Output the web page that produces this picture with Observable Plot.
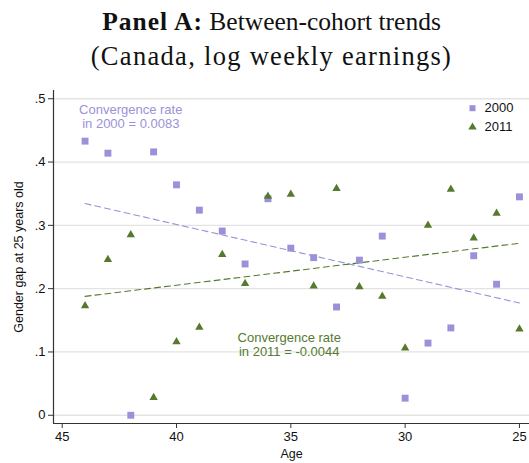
<!DOCTYPE html>
<html>
<head>
<meta charset="utf-8">
<script src="https://cdn.jsdelivr.net/npm/d3@7"></script>
<script src="https://cdn.jsdelivr.net/npm/@observablehq/plot@0.6"></script>
<style>
  body { margin: 0; background: #fff; }
  #wrap { width: 529px; height: 463px; position: relative; overflow: hidden; }
  #title { height: 85px; text-align: center; font-family: "Liberation Serif", "Times New Roman", serif; font-size: 25.5px; color: #111; line-height: 35px; padding-top: 4px; padding-left: 14px; box-sizing: border-box; }
  #title b { font-weight: bold; letter-spacing: 1px; }
  #title .l2 { font-size: 26.5px; letter-spacing: 1.3px; }
  svg { display: block; }
</style>
</head>
<body>
<div id="wrap">
  <div id="title"><b>Panel A:</b> Between-cohort trends<br><span class="l2">(Canada, log weekly earnings)</span></div>
  <div id="chart"></div>
</div>
<script>
const ages = [44, 43, 42, 41, 40, 39, 38, 37, 36, 35, 34, 33, 32, 31, 30, 29, 28, 27, 26, 25];
const gap2000 = [0.433, 0.414, 0.000, 0.416, 0.364, 0.324, 0.291, 0.239, 0.342, 0.264, 0.249, 0.171, 0.245, 0.283, 0.027, 0.114, 0.138, 0.252, 0.207, 0.345];
const gap2011 = [0.173, 0.246, 0.285, 0.028, 0.116, 0.139, 0.254, 0.208, 0.346, 0.349, 0.204, 0.358, 0.203, 0.188, 0.106, 0.300, 0.357, 0.280, 0.319, 0.136];
const xTicks = [45, 40, 35, 30, 25];
const yTicks = [0, 0.1, 0.2, 0.3, 0.4, 0.5];
const seriesNames = ["2000", "2011"];
const annotations = [
  {age: 42.0, gap: 0.472, label: "Convergence rate\nin 2000 = 0.0083", series: "2000"},
  {age: 35.07, gap: 0.112, label: "Convergence rate\nin 2011 = -0.0044", series: "2011"}
];

const colors = {"2000": "#9a92d8", "2011": "#557a2e"};
const xDomain = [45.38, 24.56];
const yDomain = [-0.013, 0.513];

const d2000 = ages.map((a, i) => ({age: a, gap: gap2000[i]}));
const d2011 = ages.map((a, i) => ({age: a, gap: gap2011[i]}));

const fmtY = d => d === 0 ? "0" : d3.format(".1f")(d).replace(/^0/, "");
const font = "Liberation Sans, Arial, sans-serif";

const chart = Plot.plot({
  width: 529,
  height: 378,
  marginTop: 5,
  marginBottom: 40,
  marginLeft: 53,
  marginRight: 0,
  style: {fontFamily: font, fontSize: "13px", color: "#111", background: "white"},
  x: {domain: xDomain, ticks: xTicks, label: null},
  y: {domain: yDomain, ticks: yTicks, label: null, tickFormat: fmtY},
  marks: [
    Plot.ruleY(yTicks, {stroke: "#e3e3e3", strokeWidth: 1.3}),
    Plot.ruleX([xDomain[0]], {stroke: "#333", strokeWidth: 1.2}),
    Plot.ruleY([yDomain[0]], {stroke: "#333", strokeWidth: 1.2}),
    Plot.axisX({ticks: xTicks, tickSize: 5, tickPadding: 3, stroke: "#333", fontSize: 13, label: null}),
    Plot.axisY({ticks: yTicks, tickSize: 5, tickPadding: 3, stroke: "#333", fontSize: 13, tickFormat: fmtY, label: null}),
    Plot.text(["Age"], {frameAnchor: "bottom", dy: 30, lineAnchor: "middle", textAnchor: "middle", fontSize: 12.5, fill: "#111"}),
    Plot.text(["Gender gap at 25 years old"], {frameAnchor: "left", dx: -35, dy: 0, rotate: -90, lineAnchor: "middle", textAnchor: "middle", fontSize: 12.5, fill: "#111"}),
    Plot.linearRegressionY(d2000, {x: "age", y: "gap", ci: 0, stroke: colors["2000"], strokeWidth: 1.1, strokeDasharray: "6,4"}),
    Plot.linearRegressionY(d2011, {x: "age", y: "gap", ci: 0, stroke: colors["2011"], strokeWidth: 1.1, strokeDasharray: "6,4"}),
    Plot.dot(d2000, {x: "age", y: "gap", symbol: "square", r: 3.9, fill: colors["2000"], stroke: "none"}),
    Plot.dot(d2011, {x: "age", y: "gap", symbol: "triangle", r: 3.1, fill: colors["2011"], stroke: "none"}),
    Plot.text(annotations, {x: "age", y: "gap", text: "label", fill: d => colors[d.series], fontSize: 13, lineHeight: 1.07, textAnchor: "middle", lineAnchor: "middle"}),
    // legend
    Plot.dot([seriesNames[0]], {frameAnchor: "top-right", dx: -57, dy: 17.7, symbol: "square", r: 3.4, fill: colors["2000"]}),
    Plot.dot([seriesNames[1]], {frameAnchor: "top-right", dx: -57, dy: 36.7, symbol: "triangle", r: 3.1, fill: colors["2011"]}),
    Plot.text([seriesNames[0]], {frameAnchor: "top-right", dx: -45, dy: 17.7, text: d => d, textAnchor: "start", lineAnchor: "middle", fontSize: 13, fill: "#111"}),
    Plot.text([seriesNames[1]], {frameAnchor: "top-right", dx: -45, dy: 36.7, text: d => d, textAnchor: "start", lineAnchor: "middle", fontSize: 13, fill: "#111"})
  ]
});
document.getElementById("chart").appendChild(chart);
</script>
</body>
</html>
